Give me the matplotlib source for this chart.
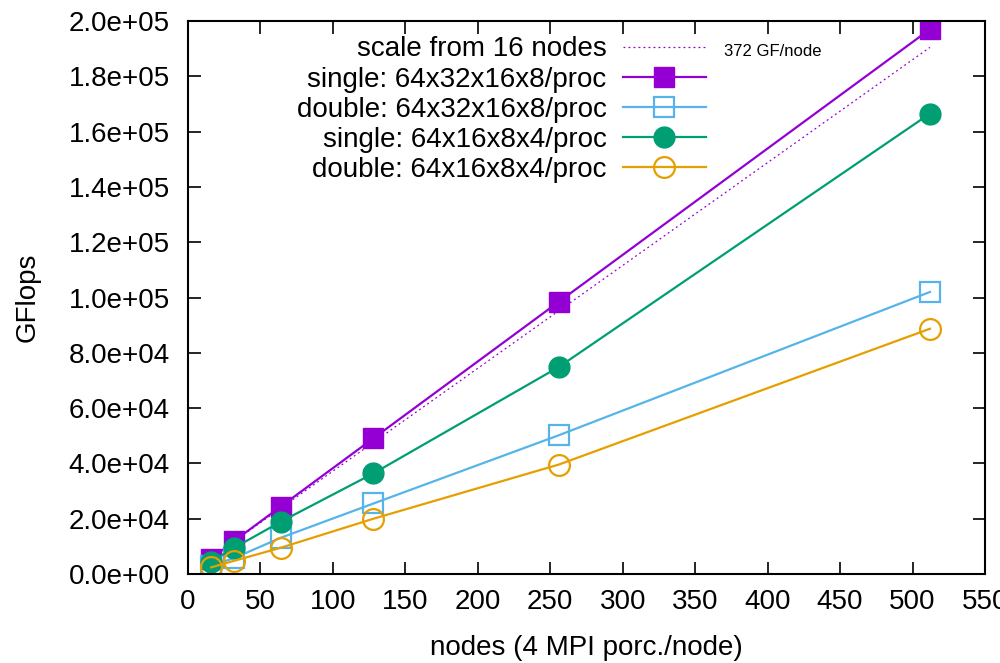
import numpy as np
import matplotlib
matplotlib.use("Agg")
import matplotlib.pyplot as plt
from matplotlib.ticker import FormatStrFormatter, MultipleLocator

plt.rcParams["font.family"] = ["Liberation Sans", "DejaVu Sans"]

# ==========================================================
# DATA
# ==========================================================

nodes = [16, 32, 64, 128, 256, 512]

single_big = [5.5e3, 12.0e3, 24.4e3, 49.1e3, 98.5e3, 197.0e3]
double_big = [3.0e3, 5.8e3, 13.1e3, 25.5e3, 50.2e3, 102.0e3]
single_small = [4.5e3, 9.5e3, 18.9e3, 36.4e3, 74.9e3, 166.5e3]
double_small = [2.4e3, 4.8e3, 9.5e3, 20.0e3, 39.6e3, 88.7e3]

gf_per_node = 372
scale_nodes = [16, 512]

labels = [
    "scale from 16 nodes",
    "single: 64x32x16x8/proc",
    "double: 64x32x16x8/proc",
    "single: 64x16x8x4/proc",
    "double: 64x16x8x4/proc",
]

# ==========================================================
# PLOT
# ==========================================================

PURPLE = "#9400D3"
BLUE = "#56B4E9"
GREEN = "#009E73"
ORANGE = "#E69F00"
FS = 20

W, H = 1000, 663
fig = plt.figure(figsize=(W / 100, H / 100), dpi=100)
ax = fig.add_axes([188 / W, (H - 574) / H, 797 / W, 553 / H])

scale_y = [gf_per_node * n for n in scale_nodes]
ax.plot(scale_nodes, scale_y, color=PURPLE, lw=0.9, ls=(0, (1.5, 2.5)), label=labels[0])

ax.plot(nodes, single_big, color=PURPLE, lw=1.6, marker="s", ms=14,
        mfc=PURPLE, mec=PURPLE, label=labels[1])
ax.plot(nodes, double_big, color=BLUE, lw=1.6, marker="s", ms=14,
        mfc="none", mec=BLUE, mew=1.6, label=labels[2])
ax.plot(nodes, single_small, color=GREEN, lw=1.6, marker="o", ms=15,
        mfc=GREEN, mec=GREEN, label=labels[3])
ax.plot(nodes, double_small, color=ORANGE, lw=1.6, marker="o", ms=15,
        mfc="none", mec=ORANGE, mew=1.6, label=labels[4])

ax.set_xlim(0, 550)
ax.set_ylim(0, 2.0e5)
ax.xaxis.set_major_locator(MultipleLocator(50))
ax.yaxis.set_major_locator(MultipleLocator(2.0e4))
ax.yaxis.set_major_formatter(FormatStrFormatter("%.1e"))
ax.tick_params(direction="in", length=9, width=1.2, top=True, right=True,
               labelsize=FS)
ax.tick_params(axis="y", pad=13)
ax.tick_params(axis="x", pad=11)
for s in ax.spines.values():
    s.set_linewidth(1.5)

ax.set_xlabel("nodes (4 MPI porc./node)", fontsize=FS, labelpad=14)
ax.set_ylabel("GFlops", fontsize=FS, labelpad=20)

leg = ax.legend(loc="upper right", bbox_to_anchor=(0.65, 0.972), frameon=False,
                markerfirst=False, fontsize=FS, handlelength=3.0,
                handletextpad=0.58, labelspacing=0.15, borderpad=0, borderaxespad=0)
for t in leg.get_texts():
    t.set_ha("right")

ax.text(0.672, 0.944, "372 GF/node", transform=ax.transAxes, fontsize=12,
        ha="left", va="center")

fig.savefig("out.png", dpi=100)
